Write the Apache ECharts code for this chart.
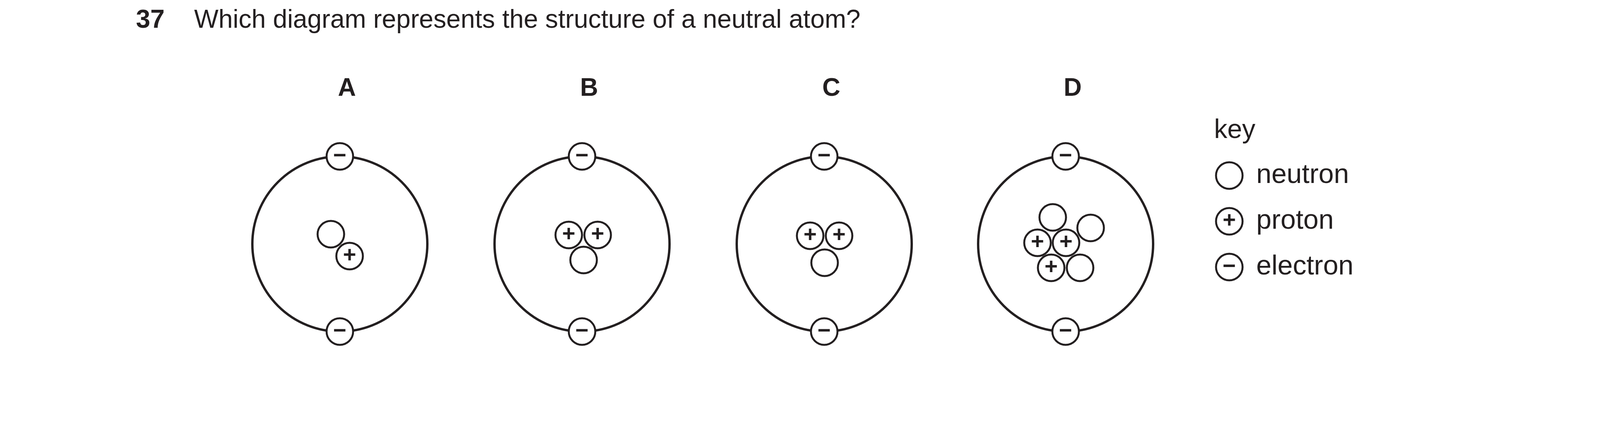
<!DOCTYPE html>
<html>
<head>
<meta charset="utf-8">
<script src="https://cdn.jsdelivr.net/npm/echarts@6/dist/echarts.min.js"></script>
<style>html,body{margin:0;padding:0;background:#fff}#main{width:4132px;height:1087px}</style>
</head>
<body>
<div id="main"></div>
<script>
// diagram letters and atom centres (page pixels)
var atomNames = ['A', 'B', 'C', 'D'];
var atomX = [870, 1490, 2110, 2728];
var atomY = 624;
var ringR = 224;
// nucleus particles: [x, y] per atom
var neutrons = [[847, 599], [1494, 665], [2111, 672], [2695, 556], [2792, 583], [2765, 685]];
var protons = [[895, 655], [1456, 601], [1530, 601], [2074, 603], [2148, 603], [2656, 621], [2729, 621], [2691, 685]];
// key entries
var keyNames = ['neutron', 'proton', 'electron'];
var keySigns = ['', '+', '\u2212'];
var keyY = [449, 566, 683];

var electrons = [];
atomX.forEach(function (x) { electrons.push([x, atomY - ringR]); electrons.push([x, atomY + ringR]); });

var ink = '#231f20';
var partStyle = {color: '#fff', borderColor: ink, borderWidth: 5, opacity: 1};
var signLabel = function (s) {
    return {show: true, position: 'inside', formatter: s, color: ink, fontSize: 58, fontFamily: 'Liberation Sans', fontWeight: 'bold'};
};

var graphics = [
    {type: 'text', left: 348, top: 20, style: {text: '37', font: 'bold 66px "Liberation Sans"', fill: ink}},
    {type: 'text', left: 497, top: 20, style: {text: 'Which diagram represents the structure of a neutral atom?', font: '66px "Liberation Sans"', fill: ink}},
    {type: 'text', left: 3108, top: 300, style: {text: 'key', font: '68px "Liberation Sans"', fill: ink}}
];
atomNames.forEach(function (n, i) {
    graphics.push({type: 'text', x: atomX[i] + 18, y: 227, style: {text: n, font: 'bold 64px "Liberation Sans"', fill: ink, align: 'center', verticalAlign: 'middle'}});
});
keyNames.forEach(function (n, i) {
    graphics.push({type: 'text', x: 3216, y: keyY[i], style: {text: n, font: '70px "Liberation Sans"', fill: ink, align: 'left', verticalAlign: 'middle'}});
});

var myChart = echarts.init(document.getElementById('main'));
var option = {
    animation: false,
    grid: {left: 0, right: 0, top: 0, bottom: 0},
    xAxis: {type: 'value', min: 0, max: 4132, show: false},
    yAxis: {type: 'value', min: 0, max: 1087, inverse: true, show: false},
    graphic: graphics,
    series: [
        {
            type: 'scatter', symbol: 'circle', symbolSize: ringR * 2, z: 1,
            data: atomX.map(function (x) { return [x, atomY]; }),
            itemStyle: {color: 'rgba(0,0,0,0)', borderColor: ink, borderWidth: 6, opacity: 1}
        },
        {type: 'scatter', symbolSize: 68, z: 3, data: neutrons, itemStyle: partStyle},
        {type: 'scatter', symbolSize: 68, z: 4, data: protons, itemStyle: partStyle, label: signLabel('+')},
        {type: 'scatter', symbolSize: 68, z: 4, data: electrons, itemStyle: partStyle, label: signLabel('\u2212')},
        {
            type: 'scatter', symbolSize: 68, z: 4,
            data: keyY.map(function (y, i) { return {value: [3147, y], name: keyNames[i], sign: keySigns[i]}; }),
            itemStyle: partStyle,
            label: {show: true, position: 'inside', formatter: function (p) { return p.data.sign; }, color: ink, fontSize: 58, fontWeight: 'bold', fontFamily: 'Liberation Sans'}
        }
    ]
};
myChart.setOption(option);
</script>
</body>
</html>
